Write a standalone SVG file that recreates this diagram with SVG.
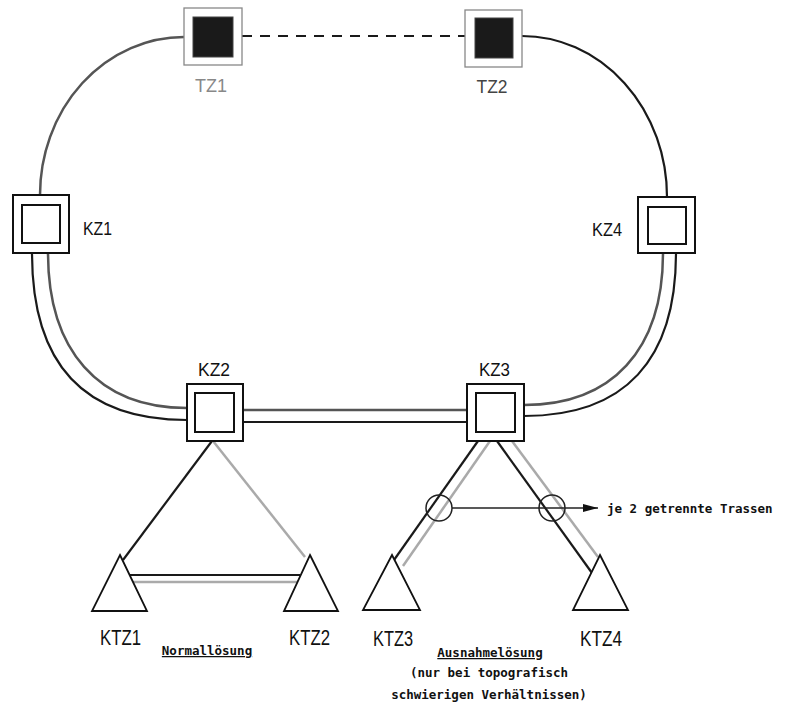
<svg xmlns="http://www.w3.org/2000/svg" width="787" height="704" viewBox="0 0 787 704">
<defs>
<marker id="arr" viewBox="0 0 10 10" refX="10" refY="5" markerWidth="15" markerHeight="8" markerUnits="userSpaceOnUse" orient="auto" preserveAspectRatio="none">
<path d="M0,0 L10,5 L0,10 Z" fill="#111"/>
</marker>
</defs>
<style>
.bg{fill:#fff}
.box{fill:#fff;stroke:#111;stroke-width:2}
.tbox{fill:#fff;stroke:#888;stroke-width:1.3}
.tin{fill:#1a1a1a;stroke:#444;stroke-width:1}
.dk{fill:none;stroke:#1a1a1a;stroke-width:2.2}
.md{fill:none;stroke:#555;stroke-width:2.5}
.lt{fill:none;stroke:#aaa;stroke-width:2.5}
.thin{fill:none;stroke:#222;stroke-width:1.5}
.lbl{font-family:"Liberation Sans",Arial,sans-serif;font-size:19px;fill:#111}
.big{font-family:"Liberation Sans",Arial,sans-serif;font-size:22px;fill:#111}
.mono{font-family:"DejaVu Sans Mono","Liberation Mono",monospace;font-size:12.5px;fill:#111;font-weight:bold}
.tri{fill:#fff;stroke:#111;stroke-width:1.8}
</style>
<rect class="bg" x="0" y="0" width="787" height="704"/>
<g id="connectors">
<path class="md" d="M184,37 A144,158 0 0 0 40,195"/>
<path class="dk" d="M522,36 A145,161 0 0 1 667,197"/>
<line class="dk" x1="242" y1="36" x2="465" y2="36" stroke-dasharray="10,8"/>
<path class="dk" d="M32,253 C32,362 82,420 187,420"/>
<path class="md" d="M48,253 C48,350 98,408 187,408"/>
<path class="md" d="M663,253 C663,350 612,405 524,405"/>
<path class="dk" d="M676,253 C676,360 625,416 524,416"/>
<line class="md" x1="243" y1="410" x2="467" y2="410"/>
<line class="dk" x1="243" y1="422" x2="467" y2="422"/>
<line class="dk" x1="212" y1="441" x2="123" y2="560"/>
<line class="lt" x1="213" y1="441" x2="305" y2="557"/>
<line class="dk" x1="130" y1="575" x2="300" y2="575"/>
<line class="lt" x1="132" y1="582" x2="300" y2="582" stroke-width="3.5"/>
<line class="dk" x1="478" y1="441" x2="394" y2="560"/>
<line class="lt" x1="490" y1="441" x2="403" y2="566"/>
<line class="dk" x1="497" y1="441" x2="592" y2="573"/>
<line class="lt" x1="512" y1="441" x2="598" y2="557"/>
<circle class="thin" cx="439" cy="508" r="13"/>
<circle class="thin" cx="552" cy="508" r="13"/>
<line class="thin" x1="452" y1="508" x2="598" y2="508" marker-end="url(#arr)"/>
</g>
<g id="TZ1">
<rect class="tbox" x="184" y="8" width="58" height="57"/>
<rect class="tin" x="193" y="17" width="40" height="40"/>
<text x="211" y="92" class="lbl" style="fill:#888" text-anchor="middle" textLength="32" lengthAdjust="spacingAndGlyphs">TZ1</text>
</g>
<g id="TZ2">
<rect class="tbox" x="465" y="10" width="57" height="57"/>
<rect class="tin" x="475" y="18" width="38" height="40"/>
<text x="492" y="93" class="lbl" style="fill:#444" text-anchor="middle" textLength="31" lengthAdjust="spacingAndGlyphs">TZ2</text>
</g>
<g id="KZ1">
<rect class="box" x="13" y="195" width="56" height="58"/>
<rect class="box" x="22" y="205" width="38" height="38"/>
<text x="83" y="235" class="lbl" textLength="29" lengthAdjust="spacingAndGlyphs">KZ1</text>
</g>
<g id="KZ4">
<rect class="box" x="638" y="197" width="57" height="56"/>
<rect class="box" x="648" y="207" width="38" height="37"/>
<text x="592" y="236" class="lbl" textLength="30" lengthAdjust="spacingAndGlyphs">KZ4</text>
</g>
<g id="KZ2">
<rect class="box" x="187" y="384" width="56" height="57"/>
<rect class="box" x="195" y="393" width="39" height="39"/>
<text x="198" y="376" class="lbl" textLength="32" lengthAdjust="spacingAndGlyphs">KZ2</text>
</g>
<g id="KZ3">
<rect class="box" x="467" y="384" width="57" height="57"/>
<rect class="box" x="476" y="393" width="39" height="39"/>
<text x="479" y="376" class="lbl" textLength="31" lengthAdjust="spacingAndGlyphs">KZ3</text>
</g>
<g id="KTZ1">
<polygon class="tri" points="120,555 147,611 92,611"/>
<text x="100" y="645" class="big" textLength="41" lengthAdjust="spacingAndGlyphs">KTZ1</text>
</g>
<g id="KTZ2">
<polygon class="tri" points="310,555 338,611 284,611"/>
<text x="289" y="645" class="big" textLength="41" lengthAdjust="spacingAndGlyphs">KTZ2</text>
</g>
<g id="KTZ3">
<polygon class="tri" points="392,555 420,610 363,610"/>
<text x="373" y="646" class="big" textLength="40" lengthAdjust="spacingAndGlyphs">KTZ3</text>
</g>
<g id="KTZ4">
<polygon class="tri" points="600,555 628,610 573,610"/>
<text x="580" y="646" class="big" textLength="42" lengthAdjust="spacingAndGlyphs">KTZ4</text>
</g>
<g id="labels">
<text x="207" y="655" class="mono" text-anchor="middle" text-decoration="underline">Normallösung</text>
<text x="490" y="657" class="mono" text-anchor="middle" text-decoration="underline">Ausnahmelösung</text>
<text x="489" y="677" class="mono" text-anchor="middle">(nur bei topografisch</text>
<text x="489" y="699" class="mono" text-anchor="middle">schwierigen Verhältnissen)</text>
<text x="607" y="513" class="mono">je 2 getrennte Trassen</text>
</g>
</svg>
